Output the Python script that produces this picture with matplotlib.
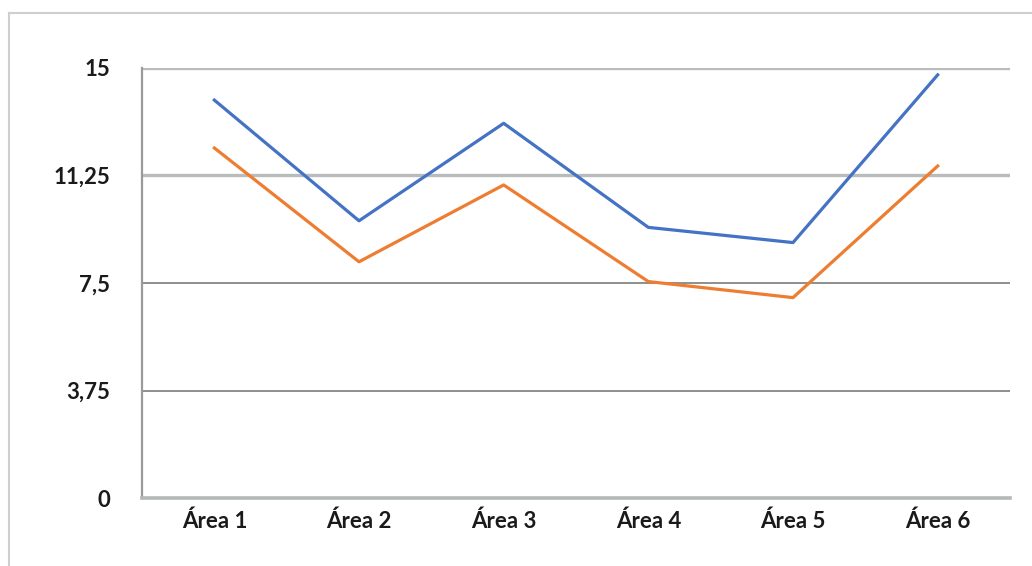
import matplotlib
matplotlib.use("Agg")
import matplotlib.pyplot as plt
from matplotlib.lines import Line2D

# Datos por área
areas = ["Área 1", "Área 2", "Área 3", "Área 4", "Área 5", "Área 6"]
serie_azul = [13.88, 9.67, 13.07, 9.44, 8.91, 14.76]
serie_naranja = [12.21, 8.24, 10.92, 7.55, 6.99, 11.58]
ticks_y = [0, 3.75, 7.5, 11.25, 15]
etiquetas_y = ["0", "3,75", "7,5", "11,25", "15"]

plt.rcParams['font.family'] = ['Lato', 'DejaVu Sans']

fig = plt.figure(figsize=(10.32, 5.66), dpi=100)
ax = fig.add_axes([0.1376, 0.1201, 0.9787 - 0.1376, 0.8799 - 0.1201])

# Marco gris claro alrededor del gráfico
fig.add_artist(Line2D([0.0085, 0.0085], [0, 0.977], color="#cfcfcf", lw=1.5))
fig.add_artist(Line2D([0.0085, 1.0], [0.977, 0.977], color="#cfcfcf", lw=1.5))

# Líneas de cuadrícula (las superiores más claras y gruesas)
estilos = {3.75: ("#7c7c7c", 1.2), 7.5: ("#7c7c7c", 1.2),
           11.25: ("#b9bcbc", 2.4), 15: ("#b9bcbc", 2.4)}
for y, (c, w) in estilos.items():
    ax.axhline(y, color=c, lw=w, zorder=1)

x = range(len(areas))
ax.plot(x, serie_azul, color="#4472C4", lw=2.3, zorder=3)
ax.plot(x, serie_naranja, color="#ED7D31", lw=2.3, zorder=3)

ax.set_xlim(-0.5, len(areas) - 0.5)
ax.set_ylim(0, 15)
ax.set_xticks(list(x))
ax.set_xticklabels(areas)
ax.set_yticks(ticks_y)
ax.set_yticklabels(etiquetas_y)
ax.tick_params(axis="both", length=0, labelsize=16, colors="#1a1a1a")
ax.tick_params(axis="y", pad=23)
ax.tick_params(axis="x", pad=9)
for lbl in ax.get_xticklabels() + ax.get_yticklabels():
    lbl.set_fontweight("bold")

ax.spines["top"].set_visible(False)
ax.spines["right"].set_visible(False)
ax.spines["left"].set_color("#9a9a9a")
ax.spines["left"].set_linewidth(1.6)
ax.spines["left"].set_bounds(0, 15)
ax.spines["bottom"].set_color("#b4b8b8")
ax.spines["bottom"].set_linewidth(2.6)
ax.spines["left"].set_zorder(2)
ax.spines["bottom"].set_zorder(2)

fig.savefig("out.png", dpi=100, facecolor="white")
